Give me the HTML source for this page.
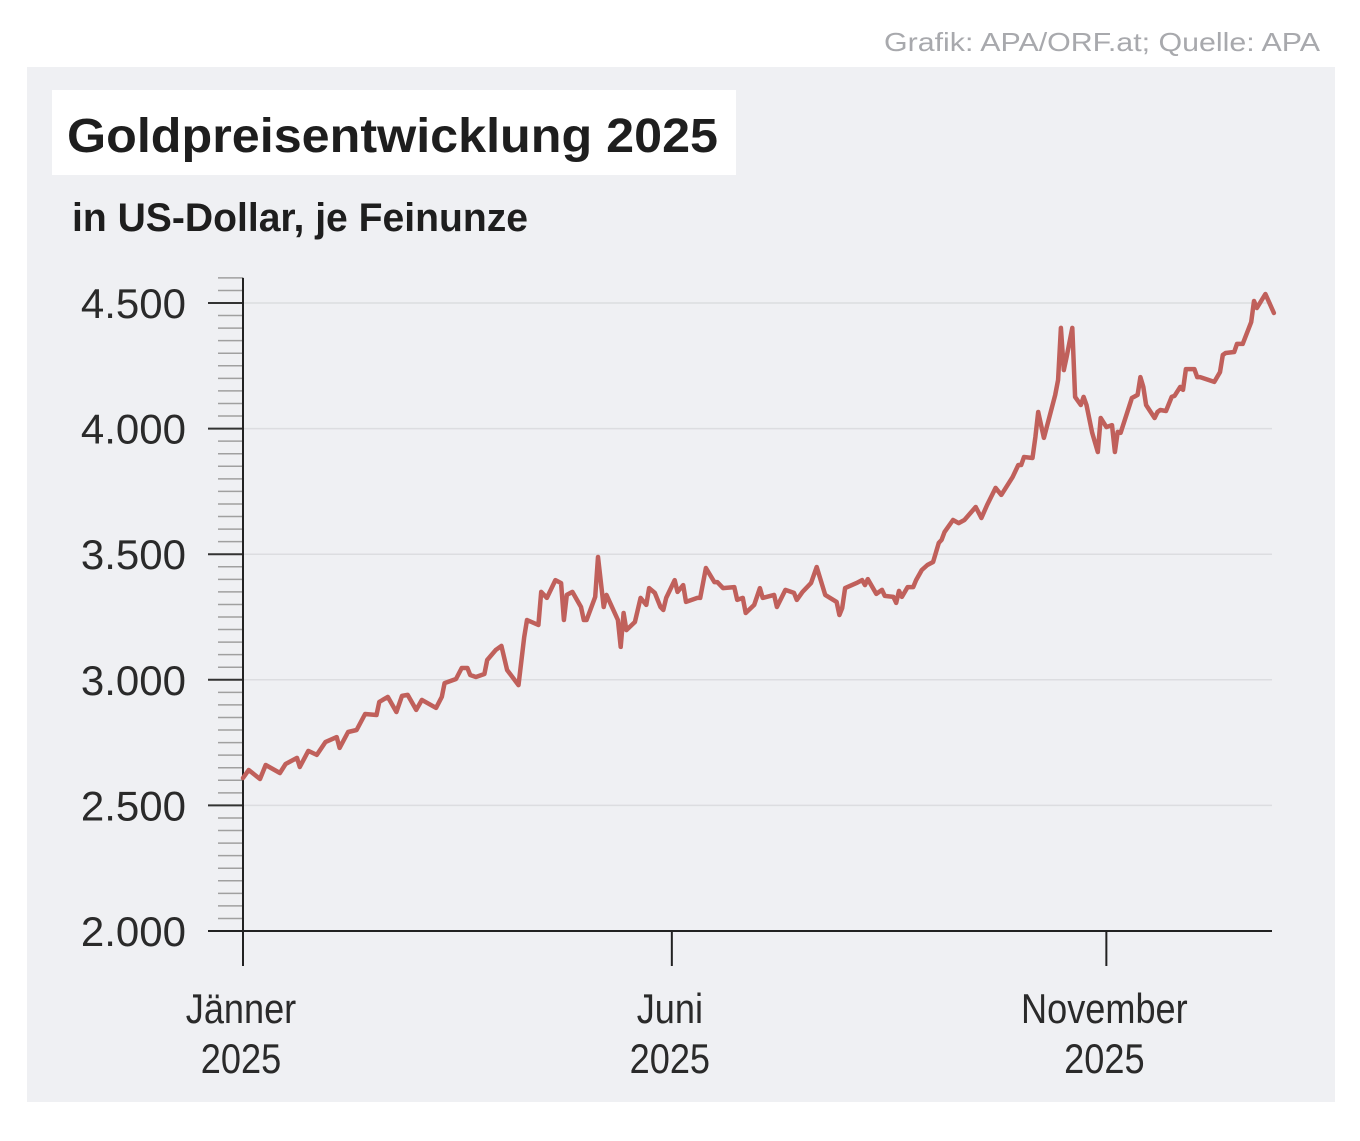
<!DOCTYPE html>
<html><head><meta charset="utf-8">
<style>
html,body{margin:0;padding:0;background:#fff;}
body{width:1360px;height:1136px;position:relative;overflow:hidden;font-family:"Liberation Sans",sans-serif;}
</style></head>
<body>
<svg width="1360" height="1136" viewBox="0 0 1360 1136" xmlns="http://www.w3.org/2000/svg">
<text x="1320" y="51" text-anchor="end" font-size="26" fill="#a8a9ad" font-family="Liberation Sans, sans-serif" textLength="436" lengthAdjust="spacingAndGlyphs">Grafik: APA/ORF.at; Quelle: APA</text>
<rect x="27" y="67" width="1308" height="1035" fill="#eff0f3"/>
<rect x="52" y="90" width="684" height="85" fill="#ffffff"/>
<text x="67" y="152" font-size="48" font-weight="bold" fill="#1e1e1e" textLength="651" lengthAdjust="spacingAndGlyphs">Goldpreisentwicklung 2025</text>
<text x="72" y="231" font-size="40" font-weight="bold" fill="#1e1e1e" textLength="456" lengthAdjust="spacingAndGlyphs">in US-Dollar, je Feinunze</text>
<g id="grid"></g>
<g id="axes"></g>
<g id="series"></g>
</svg>
<script>
const days=[0,2,6,8,13,15,19,20,23,26,29,33,34,37,40,43,47,48,51,54,56,58,61,63,68,70,71,75,77,79,80,82,85,86,89,91,93,97,99,100,104,105,107,110,112,113,114,116,119,120,121,124,125,127,128,132,133,134,135,138,140,142,143,145,147,148,149,152,153,155,156,160,161,163,166,167,169,173,174,176,177,180,182,183,187,188,191,194,195,197,200,202,205,209,210,211,212,216,218,219,220,223,225,226,229,230,231,232,234,236,237,239,241,243,245,246,247,250,252,254,258,260,262,265,267,271,273,274,275,278,279,280,282,286,287,288,289,290,292,293,295,296,297,299,301,302,304,306,307,308,309,313,315,316,317,318,321,322,323,325,327,328,330,331,332,335,336,337,342,344,345,346,349,350,352,355,356,357,360,363];
const prices=[2609,2641,2605,2661,2629,2665,2689,2653,2717,2701,2752,2772,2729,2792,2800,2864,2860,2912,2932,2872,2936,2940,2880,2920,2888,2932,2987,3003,3047,3047,3019,3011,3023,3079,3119,3135,3039,2979,3170,3238,3218,3350,3326,3397,3385,3238,3338,3350,3290,3238,3238,3330,3489,3290,3338,3238,3131,3266,3198,3230,3326,3298,3365,3346,3290,3278,3326,3397,3350,3377,3310,3326,3326,3445,3389,3389,3365,3369,3318,3326,3266,3298,3365,3326,3338,3290,3358,3346,3318,3350,3385,3449,3338,3310,3258,3286,3365,3385,3397,3377,3401,3342,3358,3334,3330,3306,3354,3330,3369,3369,3397,3437,3457,3469,3545,3557,3588,3636,3624,3636,3688,3644,3696,3764,3736,3807,3855,3855,3887,3883,3967,4066,3963,4134,4194,4401,4233,4285,4401,4126,4094,4126,4094,3983,3907,4042,4006,4014,3907,3987,3983,4122,4134,4205,4166,4094,4042,4066,4074,4070,4126,4130,4166,4154,4237,4237,4205,4205,4186,4225,4293,4301,4305,4337,4337,4424,4508,4480,4536,4460];
const yTicks=[2000,2500,3000,3500,4000,4500];
const yTickLabels=["2.000","2.500","3.000","3.500","4.000","4.500"];
const xTickDays=[0,151,304];
const xTickLabels=[["Jänner","2025"],["Juni","2025"],["November","2025"]];

const NS="http://www.w3.org/2000/svg";
const X=d=>243+d*2.84;
const Y=v=>931-(v-2000)*125.6/500;
function mk(tag,attrs,parent){const e=document.createElementNS(NS,tag);for(const k in attrs)e.setAttribute(k,attrs[k]);parent.appendChild(e);return e;}
const grid=document.getElementById('grid'),axes=document.getElementById('axes'),series=document.getElementById('series');

yTicks.forEach((v,i)=>{
  if(v>2000){const g=mk('line',{x1:243,x2:1272,y1:Y(v),y2:Y(v),stroke:'#dcdde0','stroke-width':1.5},grid);
  
  }
  const t=mk('line',{x1:208,x2:243,y1:Y(v),y2:Y(v),stroke:'#333','stroke-width':2},axes);
  
  
  const l=mk('text',{x:186,y:Y(v)+15,'text-anchor':'end','font-size':42,fill:'#2a2a2a'},axes);
  l.textContent=yTickLabels[i];
  
  
});
for(let v=2050;v<=4600;v+=50){
  if(v%500===0)continue;
  const m=mk('line',{x1:218,x2:243,y1:Y(v),y2:Y(v),stroke:'#a0a0a0','stroke-width':1.5},axes);
  
  
}
const ya=mk('line',{x1:243,x2:243,y1:Y(4600),y2:966,stroke:'#222','stroke-width':2},axes);


const xa=mk('line',{x1:208,x2:1272,y1:931,y2:931,stroke:'#222','stroke-width':2},axes);


xTickDays.forEach((d,i)=>{
  const t=mk('line',{x1:X(d),x2:X(d),y1:931,y2:966,stroke:'#222','stroke-width':2},axes);
  
  
  xTickLabels[i].forEach((s,j)=>{
    const l=mk('text',{x:X(d)-2,y:1023+j*50,'text-anchor':'middle','font-size':42,fill:'#2a2a2a'},axes);
    l.textContent=s;
    
    
    const w=l.getComputedTextLength();
    if(w>0){l.setAttribute('textLength',(w*0.86).toFixed(1));l.setAttribute('lengthAdjust','spacingAndGlyphs');}
  });
});
const pts=days.map((d,i)=>X(d).toFixed(1)+','+Y(prices[i]).toFixed(1)).join(' ');
const pl=mk('polyline',{points:pts,fill:'none',stroke:'#c0605b','stroke-width':4.5,'stroke-linejoin':'round','stroke-linecap':'round'},series);


</script>
</body></html>
